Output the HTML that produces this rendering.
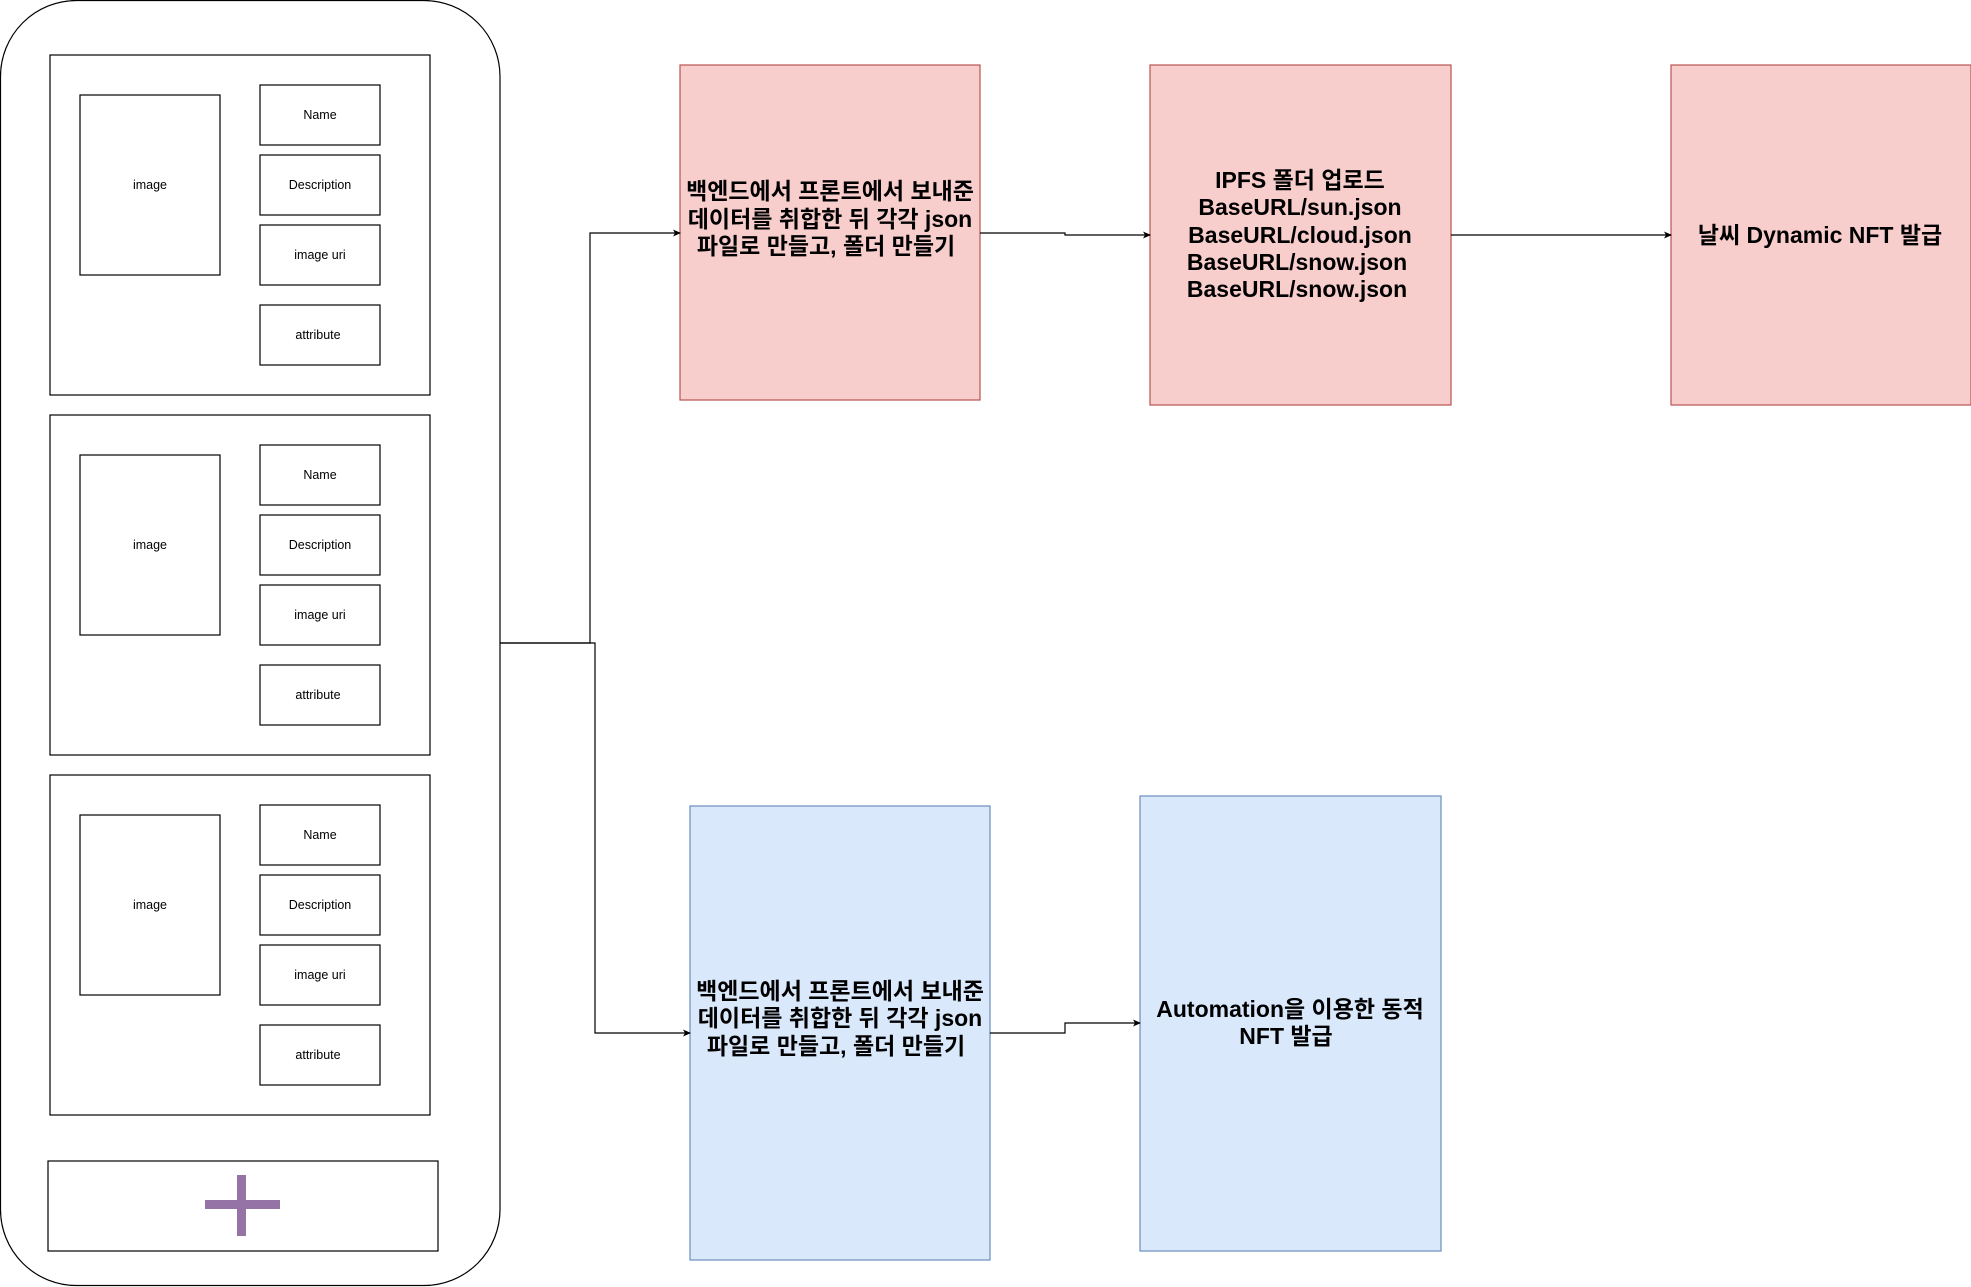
<!DOCTYPE html>
<html><head><meta charset="utf-8"><style>
html,body{margin:0;padding:0;background:#fff;}
svg{display:block;}
text{font-family:"Liberation Sans","Noto Sans CJK KR",sans-serif;}
.s{font-size:12.5px;fill:#000;}
.b{font-size:23px;font-weight:bold;fill:#000;}
</style></head><body>
<svg width="1971" height="1287" viewBox="0 0 1971 1287" xmlns="http://www.w3.org/2000/svg">
<defs><marker id="a" markerWidth="8" markerHeight="8" refX="7" refY="4" orient="auto" markerUnits="userSpaceOnUse"><path d="M0,0.5 L8,4 L0,7.5 L2,4 Z" fill="#000"/></marker></defs>
<rect x="0.5" y="0.5" width="499.5" height="1285" rx="76" fill="#fff" stroke="#000" stroke-width="1.2"/>
<g fill="#fff" stroke="#000" stroke-width="1.2">
<rect x="50" y="55" width="380" height="340"/>
<rect x="80" y="95" width="140" height="180"/>
<rect x="260" y="85" width="120" height="60"/>
<rect x="260" y="155" width="120" height="60"/>
<rect x="260" y="225" width="120" height="60"/>
<rect x="260" y="305" width="120" height="60"/>
<rect x="50" y="415" width="380" height="340"/>
<rect x="80" y="455" width="140" height="180"/>
<rect x="260" y="445" width="120" height="60"/>
<rect x="260" y="515" width="120" height="60"/>
<rect x="260" y="585" width="120" height="60"/>
<rect x="260" y="665" width="120" height="60"/>
<rect x="50" y="775" width="380" height="340"/>
<rect x="80" y="815" width="140" height="180"/>
<rect x="260" y="805" width="120" height="60"/>
<rect x="260" y="875" width="120" height="60"/>
<rect x="260" y="945" width="120" height="60"/>
<rect x="260" y="1025" width="120" height="60"/>
<rect x="48" y="1161" width="390" height="90"/>
</g>
<g class="s" text-anchor="middle" dominant-baseline="central">
<text x="150" y="185">image</text><text x="320" y="115">Name</text><text x="320" y="185">Description</text><text x="320" y="255">image uri</text><text x="318" y="335">attribute</text>
<text x="150" y="545">image</text><text x="320" y="475">Name</text><text x="320" y="545">Description</text><text x="320" y="615">image uri</text><text x="318" y="695">attribute</text>
<text x="150" y="905">image</text><text x="320" y="835">Name</text><text x="320" y="905">Description</text><text x="320" y="975">image uri</text><text x="318" y="1055">attribute</text>
</g>
<rect x="205" y="1200" width="75" height="9" fill="#9673a6"/>
<rect x="237" y="1175" width="9" height="61" fill="#9673a6"/>
<g fill="#f8cecc" stroke="#b85450" stroke-width="1.2">
<rect x="680" y="65" width="300" height="335"/>
<rect x="1150" y="65" width="301" height="340"/>
<rect x="1671" y="65" width="300" height="340"/>
</g>
<g fill="#dae8fc" stroke="#6c8ebf" stroke-width="1.2">
<rect x="690" y="806" width="300" height="454"/>
<rect x="1140" y="796" width="301" height="455"/>
</g>
<g fill="none" stroke="#000" stroke-width="1.2" marker-end="url(#a)">
<path d="M500,643 H590 V233 H680"/>
<path d="M500,643 H595 V1033 H690"/>
<path d="M980,233 H1065 V235 H1150"/>
<path d="M1451,235 H1671"/>
<path d="M990,1033 H1065 V1023 H1140"/>
</g>
<g class="b" text-anchor="middle" dominant-baseline="central">
<text x="830" y="191">백엔드에서 프론트에서 보내준</text>
<text x="830" y="219">데이터를 취합한 뒤 각각 json</text>
<text x="826" y="246">파일로 만들고, 폴더 만들기</text>
<text x="1300" y="180">IPFS 폴더 업로드</text>
<text x="1300" y="207">BaseURL/sun.json</text>
<text x="1300" y="235">BaseURL/cloud.json</text>
<text x="1297" y="262">BaseURL/snow.json</text>
<text x="1297" y="289">BaseURL/snow.json</text>
<text x="1820" y="235">날씨 Dynamic NFT 발급</text>
<text x="840" y="991">백엔드에서 프론트에서 보내준</text>
<text x="840" y="1018">데이터를 취합한 뒤 각각 json</text>
<text x="836" y="1046">파일로 만들고, 폴더 만들기</text>
<text x="1290" y="1009">Automation을 이용한 동적</text>
<text x="1286" y="1036">NFT 발급</text>
</g>
</svg>
</body></html>
